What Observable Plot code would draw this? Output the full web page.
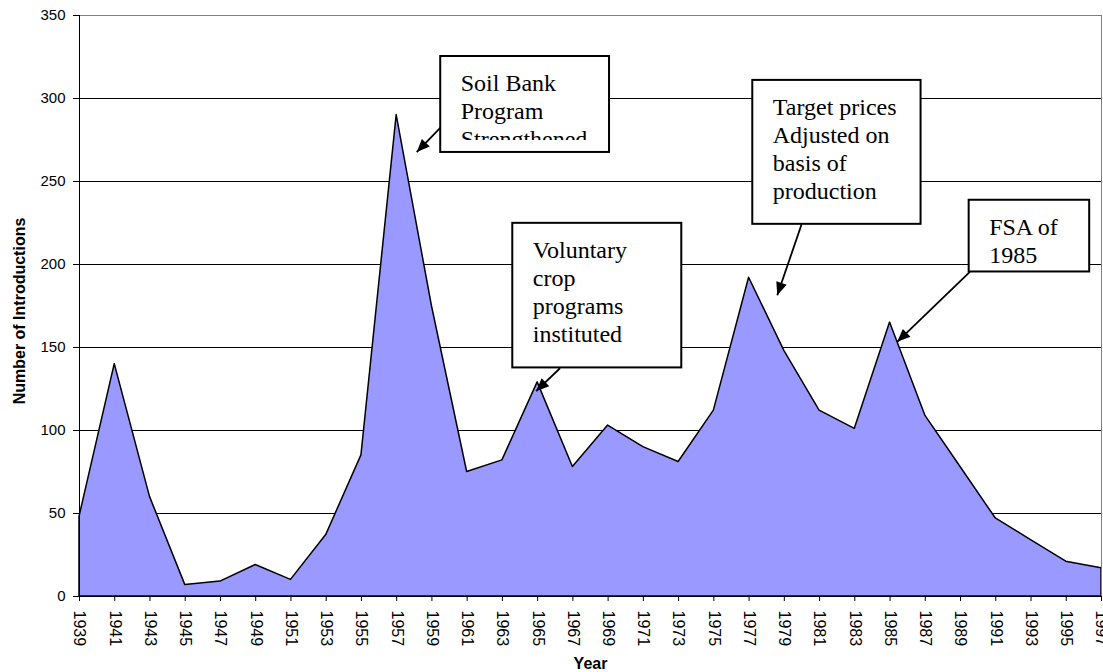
<!DOCTYPE html>
<html>
<head>
<meta charset="utf-8">
<script src="https://cdn.jsdelivr.net/npm/d3@7"></script>
<script src="https://cdn.jsdelivr.net/npm/@observablehq/plot@0.6"></script>
<style>
  html, body { margin: 0; padding: 0; background: #fff; }
  #chart svg { display: block; }
</style>
</head>
<body>
<div id="chart"></div>
<script>
// ---- data ----
const years = [1939,1941,1943,1945,1947,1949,1951,1953,1955,1957,1959,1961,1963,1965,1967,1969,1971,1973,1975,1977,1979,1981,1983,1985,1987,1989,1991,1993,1995,1997];
const introductions = [48,140,60,7,9,19,10,37,85,290,175,75,82,129,78,103,90,81,112,192,148,112,101,165,109,78,47,34,21,17];
const yTicks = [0,50,100,150,200,250,300,350];
const xTitle = "Year";
const yTitle = "Number of Introductions";

// annotations (in data units: year, number of introductions)
const notes = [
  "Soil Bank\nProgram\nStrengthened",
  "Voluntary\ncrop\nprograms\ninstituted",
  "Target prices\nAdjusted on\nbasis of\nproduction",
  "FSA of\n1985"
];
const boxX1 = [1959.50, 1963.59, 1977.21, 1989.49];
const boxX2 = [1969.08, 1973.18, 1986.76, 1996.33];
const boxTop = [325.3, 224.8, 310.9, 238.7];
const boxBottom = [267.5, 137.7, 224.2, 195.5];
const arrowFromX = [1959.50, 1966.27, 1979.98, 1989.53];
const arrowFromY = [282.6, 137.5, 224.2, 195.5];
const arrowToX = [1958.14, 1964.91, 1978.60, 1985.41];
const arrowToY = [267.7, 123.7, 181.5, 153.4];

const series = years.map((year, i) => ({year, value: introductions[i]}));
const noteIdx = notes.map((_, i) => i);

const NOTE_FONT = 24, NOTE_LH = 1.16, NOTE_DX = 20, NOTE_DY = 15;

// filled triangular arrowhead marker
function headMarker(color, context) {
  const m = d3.create("svg:marker")
    .attr("viewBox", "-13 -5.5 14 11")
    .attr("markerWidth", 14)
    .attr("markerHeight", 11)
    .attr("markerUnits", "userSpaceOnUse")
    .attr("refX", 0)
    .attr("refY", 0)
    .attr("orient", "auto")
    .attr("overflow", "visible");
  m.append("path").attr("d", "M-13,-5.5L0,0L-13,5.5Z").attr("fill", "#000").attr("stroke", "none");
  return m.node();
}

const chart = Plot.plot({
  width: 1103,
  height: 672,
  marginLeft: 79,
  marginRight: 2,
  marginTop: 15,
  marginBottom: 76,
  style: {fontFamily: "'Liberation Sans', Arial, sans-serif", background: "#fff", color: "#000"},
  x: {type: "linear", domain: [years[0], years[years.length - 1]]},
  y: {domain: [yTicks[0], yTicks[yTicks.length - 1]]},
  marks: [
    Plot.gridY(yTicks.slice(1, -1), {stroke: "#000", strokeOpacity: 1}),
    Plot.areaY(series, {x: "year", y: "value", fill: "#9999ff", stroke: "#000", strokeWidth: 1.5}),
    Plot.frame({stroke: "#808080"}),
    Plot.ruleX([years[0]], {stroke: "#000"}),
    Plot.ruleY([0], {stroke: "#000"}),
    Plot.axisY({ticks: yTicks, tickSize: 6, tickPadding: 8, fontSize: 15, label: null}),
    Plot.axisX({ticks: years, tickFormat: d => String(d), tickRotate: 90, tickSize: 5, tickPadding: 9, fontSize: 16, label: null}),
    Plot.text([xTitle], {text: d => d, frameAnchor: "bottom", dy: 72, fontWeight: "bold", fontSize: 16}),
    Plot.text([yTitle], {text: d => d, frameAnchor: "left", textAnchor: "middle", dx: -60, dy: 5, rotate: -90, fontWeight: "bold", fontSize: 16}),
    Plot.rect(noteIdx, {x1: i => boxX1[i], x2: i => boxX2[i], y1: i => boxBottom[i], y2: i => boxTop[i], fill: "#fff", stroke: "#000", strokeWidth: 2}),
    Plot.text(noteIdx, {x: i => boxX1[i], y: i => boxTop[i], text: i => notes[i], textAnchor: "start", lineAnchor: "top", dx: NOTE_DX, dy: NOTE_DY, fontFamily: "'Liberation Serif', 'Times New Roman', serif", fontSize: NOTE_FONT, lineHeight: NOTE_LH, fill: "#000"}),
    Plot.link(noteIdx, {x1: i => arrowFromX[i], y1: i => arrowFromY[i], x2: i => arrowToX[i], y2: i => arrowToY[i], stroke: "#000", strokeWidth: 1.8, markerEnd: headMarker})
  ]
});

document.getElementById("chart").appendChild(chart);

// clip annotation text to the inside of its box (like a fixed-size text box):
// text that overflows the box's inner bottom margin is cut off
(function clipNotes() {
  const sx = chart.scale("x"), sy = chart.scale("y");
  const svg = d3.select(chart);
  let target = null;
  svg.selectAll("g").each(function () {
    if (target) return;
    const texts = Array.from(this.children).filter(n => n.tagName === "text");
    if (texts.length && texts.some(t => t.textContent.includes("Voluntary"))) target = this;
  });
  if (!target) return;
  const id = "note-clip";
  const defs = svg.insert("defs", ":first-child");
  const cp = defs.append("clipPath").attr("id", id).attr("clipPathUnits", "userSpaceOnUse");
  noteIdx.forEach(i => {
    const x1 = sx.apply(boxX1[i]), x2 = sx.apply(boxX2[i]);
    const yt = sy.apply(boxTop[i]), yb = sy.apply(boxBottom[i]);
    const lines = notes[i].split("\n").length;
    const lastBaseline = yt + 0.5 + NOTE_DY + 0.71 * NOTE_FONT + (lines - 1) * NOTE_LH * NOTE_FONT;
    const overflow = lastBaseline > yb - 10;
    const inset = overflow ? 12 : 1;
    cp.append("rect").attr("x", x1 + 1).attr("y", yt + 1).attr("width", x2 - x1 - 2).attr("height", yb - yt - 1 - inset);
  });
  const wrap = document.createElementNS("http://www.w3.org/2000/svg", "g");
  wrap.setAttribute("clip-path", `url(#${id})`);
  target.parentNode.insertBefore(wrap, target);
  wrap.appendChild(target);
})();
</script>
</body>
</html>
